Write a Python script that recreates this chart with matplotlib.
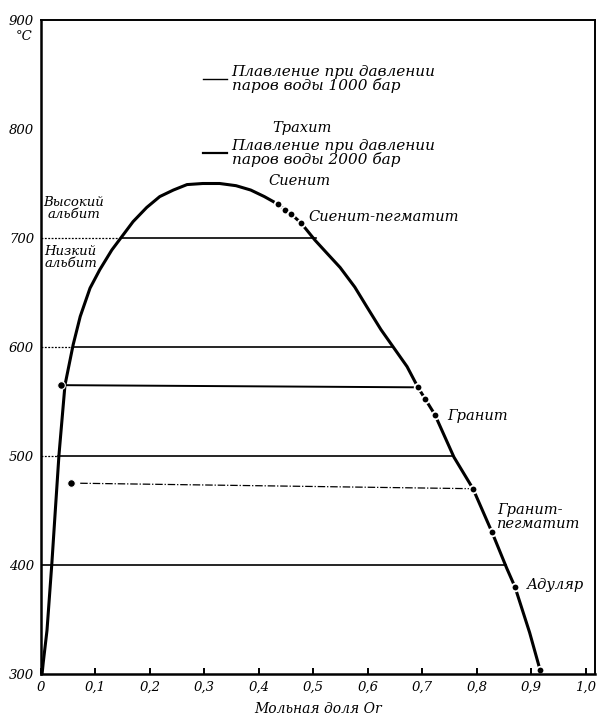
import matplotlib
matplotlib.use("Agg")
import matplotlib.pyplot as plt

# Solvus of the alkali feldspars (Ab–Or), temperature in °C vs mole fraction Or
solvus_x = [0.002, 0.004, 0.011, 0.020, 0.026, 0.033, 0.044, 0.059, 0.072, 0.090,
            0.108, 0.130, 0.148, 0.169, 0.194, 0.218, 0.243, 0.268, 0.297, 0.328,
            0.358, 0.385, 0.410, 0.435, 0.448, 0.459, 0.477, 0.503, 0.525, 0.549,
            0.576, 0.598, 0.624, 0.648, 0.672, 0.692, 0.723, 0.758, 0.793, 0.828,
            0.855, 0.870, 0.897, 0.916]
solvus_t = [300, 310, 340, 402, 448, 501, 565, 602, 628, 654,
            671, 689, 701, 715, 728, 738, 744, 749, 750, 750,
            748, 744, 738, 731, 726, 722, 714, 698, 686, 673,
            655, 637, 616, 599, 582, 563, 538, 499, 470, 430,
            397, 380, 338, 304]

# Isothermal tie lines across the miscibility gap
tie_t = [700, 600, 500, 400]
tie_left = [0.146, 0.0606, 0.032, 0.019]
tie_right = [0.505, 0.647, 0.757, 0.853]
tie_dotted_start = [True, True, True, False]

# Tie lines joining coexisting feldspar pairs
pair_left_x = [0.037, 0.055]
pair_left_t = [565, 475]
pair_right_x = [0.692, 0.793]
pair_right_t = [563, 470]

# Natural feldspar compositions plotted on the solvus
rock_x = [0.435, 0.448, 0.459, 0.477, 0.692, 0.705, 0.723, 0.793, 0.828, 0.870, 0.916]
rock_t = [731, 726, 722, 714, 563, 552, 538, 470, 430, 380, 304]

xticks = [0, 0.1, 0.2, 0.3, 0.4, 0.5, 0.6, 0.7, 0.8, 0.9, 1.0]
xtick_labels = ["0", "0,1", "0,2", "0,3", "0,4", "0,5", "0,6", "0,7", "0,8", "0,9", "1,0"]
yticks = [300, 400, 500, 600, 700, 800, 900]
ytick_labels = ["300", "400", "500", "600", "700", "800", "900"]

FONT = "DejaVu Serif"
fs = 9.5
fs_txt = 10.5

fig = plt.figure(figsize=(6.0, 7.25), dpi=100)
ax = fig.add_axes([41 / 600, 1 - 674 / 725, (595 - 41) / 600, (674 - 20) / 725])
ax.set_xlim(0, 1.017)
ax.set_ylim(300, 900)

for s in ax.spines.values():
    s.set_linewidth(1.4)
ax.spines["left"].set_linewidth(1.8)
ax.spines["bottom"].set_linewidth(1.8)

# tie lines
for t, xl, xr, dot in zip(tie_t, tie_left, tie_right, tie_dotted_start):
    if dot:
        ax.plot([0, xl], [t, t], color="black", lw=0.9, ls=(0, (1.5, 1.2)))
        ax.plot([xl, xr], [t, t], color="black", lw=1.2)
    else:
        ax.plot([0, xr], [t, t], color="black", lw=1.2)

ax.plot([pair_left_x[0], pair_right_x[0]], [pair_left_t[0], pair_right_t[0]],
        color="black", lw=1.4)
ax.plot([pair_left_x[1] + 0.017, pair_right_x[1]], [pair_left_t[1], pair_right_t[1]],
        color="black", lw=0.9, ls=(0, (6, 1.5, 1, 1.5)))

# solvus curve
ax.plot(solvus_x, solvus_t, color="black", lw=2.2, solid_capstyle="round",
        solid_joinstyle="round")

# points
ax.plot(pair_left_x, pair_left_t, "o", color="black", ms=5.5, mec="white", mew=0.8)
ax.plot(rock_x, rock_t, "o", color="black", ms=5.5, mec="white", mew=1.3)

# legend-like annotations
tkw = dict(family=FONT, style="italic", color="black")
ax.plot([0.297, 0.341], [846, 846], color="black", lw=1.0)
ax.text(0.35, 846, "Плавление при давлении\nпаров воды 1000 бар", va="center",
        ha="left", linespacing=0.95, fontsize=11, **tkw)
ax.text(0.424, 801, "Трахит", va="center", ha="left", fontsize=fs_txt, **tkw)
ax.plot([0.297, 0.341], [778, 778], color="black", lw=1.6)
ax.text(0.35, 778, "Плавление при давлении\nпаров воды 2000 бар", va="center",
        ha="left", linespacing=0.95, fontsize=11, **tkw)
ax.text(0.417, 752, "Сиенит", va="center", ha="left", fontsize=fs_txt, **tkw)
ax.text(0.49, 719, "Сиенит-пегматит", va="center", ha="left", fontsize=fs_txt, **tkw)
ax.text(0.06, 727, "Высокий\nальбит", va="center", ha="center", linespacing=0.95,
        fontsize=9.5, **tkw)
ax.text(0.006, 682, "Низкий\nальбит", va="center", ha="left", linespacing=0.95,
        fontsize=9.5, **tkw)
ax.text(0.745, 537, "Гранит", va="center", ha="left", fontsize=fs_txt, **tkw)
ax.text(0.837, 444, "Гранит-\nпегматит", va="center", ha="left", linespacing=0.95,
        fontsize=fs_txt, **tkw)
ax.text(0.892, 382, "Адуляр", va="center", ha="left", fontsize=fs_txt, **tkw)

# axes ticks and labels
ax.set_xticks(xticks)
ax.set_xticklabels(xtick_labels, family=FONT, style="italic", fontsize=fs)
ax.set_yticks(yticks)
ax.set_yticklabels(ytick_labels, family=FONT, style="italic", fontsize=fs)
ax.tick_params(axis="x", direction="in", length=4, width=1.4, pad=5)
ax.tick_params(axis="y", length=0, pad=5)
ax.set_xlabel("Мольная доля Or", family=FONT, style="italic", fontsize=fs + 0.5,
              labelpad=6)
fig.text(24 / 600, 1 - 37 / 725, "°C", family=FONT, style="italic", fontsize=fs,
         ha="center", va="center")

fig.savefig("out.png", dpi=100)
